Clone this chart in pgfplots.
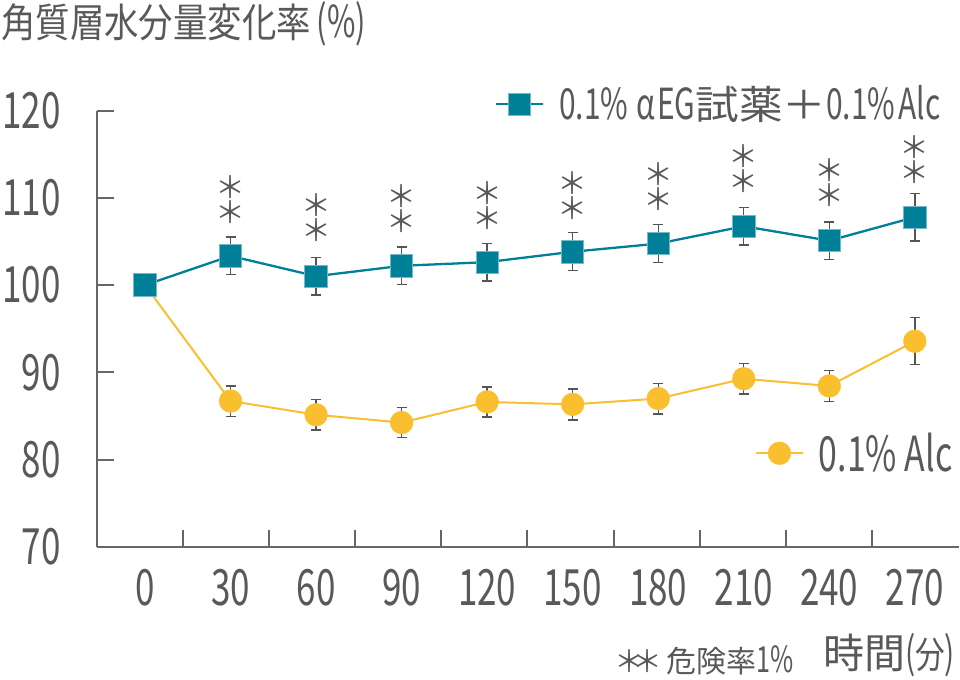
\documentclass[border=0pt]{standalone}
\usepackage{pgfplots}
\usepackage{pgfplotstable}
\pgfplotsset{compat=1.18}
\usepackage{fontspec}
\setmainfont{Noto Sans CJK JP}
\newfontfamily\latn[FakeStretch=0.7]{Noto Sans CJK JP}
\newfontfamily\cjkT[FakeStretch=0.86]{Noto Sans CJK JP}
\newfontfamily\cjkS[FakeStretch=0.8]{Noto Sans CJK JP}
\newfontfamily\cjkL[FakeStretch=1.1]{Noto Sans CJK JP}
\newfontfamily\cjkN{Noto Sans CJK JP}
\definecolor{tealc}{RGB}{0,127,153}
\definecolor{yelc}{RGB}{249,191,46}
\definecolor{textc}{RGB}{89,89,89}
\definecolor{axisc}{RGB}{102,102,102}
\definecolor{errc}{RGB}{85,85,85}

\pgfplotstableread{
x y e
0 100 0
30 103.34 2.16
60 101.02 2.16
90 102.21 2.16
120 102.63 2.16
150 103.82 2.18
180 104.75 2.16
210 106.74 2.16
240 105.09 2.14
270 107.78 2.72
}\egdata

\pgfplotstableread{
x y e
0 100 0
30 86.72 1.74
60 85.15 1.76
90 84.25 1.72
120 86.62 1.72
150 86.34 1.78
180 87.00 1.76
210 89.27 1.74
240 88.45 1.78
270 93.57 2.69
}\alcdata

\pgfplotsset{
  common/.style={
    at={(48.5pt,66.5pt)}, anchor=south west,
    scale only axis, width=431pt, height=218.25pt,
    xmin=-16.84, xmax=285.5, ymin=70, ymax=120,
    clip=false,
    legend image code/.code={\draw[mark repeat=2, mark phase=2, ##1] plot coordinates {(0pt,0pt) (11.75pt,0pt) (23.5pt,0pt)};},
  },
  errstyle/.style={forget plot, draw=none, mark=none,
    error bars/.cd, y dir=both, y explicit,
    error bar style={draw=errc, line width=0.7pt},
    error mark options={rotate=90, draw=errc, mark size=2.5pt, line width=0.7pt}},
}

\begin{document}
\begin{tikzpicture}
\useasboundingbox (0pt,0pt) rectangle (480pt,340pt);

\begin{axis}[common,
  axis x line=bottom, axis y line=left,
  axis line style={-, draw=axisc, line width=1pt},
  xtick={0,30,...,270}, ytick={70,80,...,120},
  minor xtick={13.44,43.6,73.8,103.9,134.1,164.4,194.7,224.8,255.0},
  tick align=inside,
  major tick length=8.5pt, minor tick length=8.5pt,
  major x tick style={draw=none},
  minor x tick style={draw=axisc, line width=1pt},
  major y tick style={draw=axisc, line width=1pt},
  /pgf/number format/assume math mode=true,
  tick label style={font=\latn\fontsize{25}{25}\selectfont, text=textc},
  yticklabel style={anchor=east, inner sep=0pt, xshift=-18pt},
  xticklabel style={anchor=north, inner sep=0pt, yshift=-11pt},
  legend cell align=left,
  legend style={draw=none, fill=none, inner sep=0pt, outer sep=0pt,
    at={(0.7633,0.2147)}, anchor=west,
    font=\latn\fontsize{24.2}{25}\selectfont, text=textc,
    nodes={inner sep=0pt}},
]
\addplot[errstyle] table[x=x, y=y, y error=e] {\alcdata};
\addplot[color=yelc, line width=1pt, mark=*, mark size=5.7pt,
  mark options={fill=yelc, draw=yelc, line width=0.2pt}] table[x=x, y=y] {\alcdata};
\addlegendentry{\hspace{7.5pt}0.1\% Alc}
\end{axis}

\begin{axis}[common, hide axis,
  legend cell align=left,
  legend style={draw=none, fill=none, inner sep=0pt, outer sep=0pt,
    at={(0.4617,1.0142)}, anchor=west,
    font=\latn\fontsize{21.4}{22}\selectfont, text=textc,
    nodes={inner sep=0pt}},
]
\addplot[errstyle] table[x=x, y=y, y error=e] {\egdata};
\addplot[color=tealc, line width=1.15pt, mark=square*, mark size=5.6pt,
  mark options={fill=tealc, draw=tealc!55!white, line width=0.4pt}] table[x=x, y=y] {\egdata};
\addlegendentry{\hspace{7.5pt}0.1\%\hspace{4pt}α\hspace{1pt}EG{\cjkL\fontsize{19.8}{22}\selectfont 試薬＋}0.1\%\hspace{1.5pt}Alc}
\begin{scope}[every node/.style={font=\cjkN\fontsize{15}{10.85}\selectfont, text=textc, align=center, inner sep=0pt}]
\node at (axis cs:30,109.83) {＊\\＊};
\node at (axis cs:60,107.74) {＊\\＊};
\node at (axis cs:90,108.77) {＊\\＊};
\node at (axis cs:120,109.06) {＊\\＊};
\node at (axis cs:150,110.24) {＊\\＊};
\node at (axis cs:180,111.30) {＊\\＊};
\node at (axis cs:210,113.38) {＊\\＊};
\node at (axis cs:240,111.72) {＊\\＊};
\node at (axis cs:270,114.37) {＊\\＊};
\end{scope}
\end{axis}

\node[anchor=west, text=textc, inner sep=0pt] at (0.5pt,328.3pt)
  {{\cjkT\fontsize{20}{22}\selectfont 角質層水分量変化率}\hspace{3pt}{\latn\fontsize{22}{22}\selectfont (\%)}};

\node[anchor=west, text=textc, inner sep=0pt] at (307pt,10pt)
  {{\cjkN\fontsize{15}{15}\selectfont ＊\kern-6pt＊}\hspace{2pt}{\cjkN\fontsize{15}{16}\selectfont 危険率}{\latn\fontsize{18}{18}\selectfont 1\%}};

\node[anchor=west, text=textc, inner sep=0pt] at (411.3pt,12.5pt)
  {{\cjkN\fontsize{20.5}{22}\selectfont 時間}{\latn\fontsize{21.5}{22}\selectfont (}{\cjkS\fontsize{18.5}{22}\selectfont 分}{\latn\fontsize{21.5}{22}\selectfont )}};
\end{tikzpicture}
\end{document}
